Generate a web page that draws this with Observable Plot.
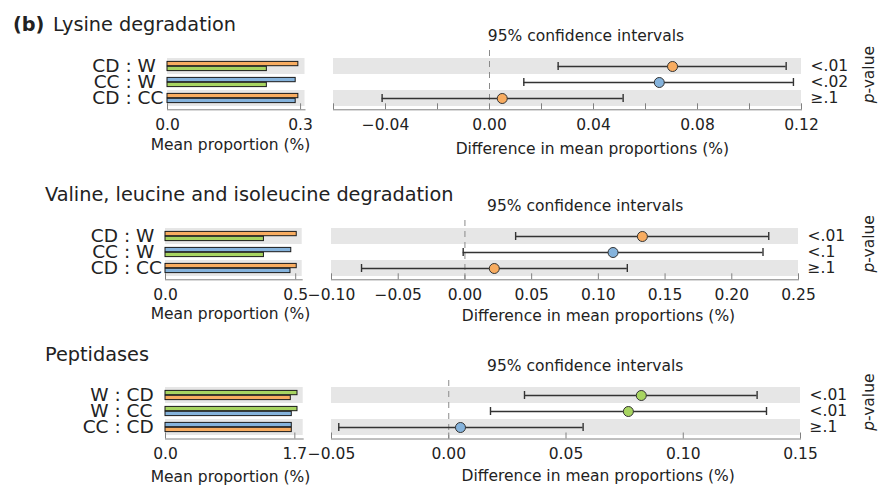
<!DOCTYPE html>
<html><head><meta charset="utf-8">
<script src="https://cdn.jsdelivr.net/npm/d3@7"></script>
<script src="https://cdn.jsdelivr.net/npm/@observablehq/plot@0.6"></script>
<style>
body{margin:0;background:#fff;}
#chart{position:relative;width:884px;height:488px;overflow:hidden;font-family:"DejaVu Sans",sans-serif;color:#222;background:#fff;}
.title{position:absolute;font-size:19.3px;line-height:20px;white-space:nowrap;color:#222;}
.panel{position:absolute;}
.panel svg{overflow:visible;}
</style></head><body><div id="chart"></div>
<script>
// ---------- data ----------
const groupColors = {CD: "#f8ac60", CC: "#85b3dc", W: "#a7d461"};
const titles = ["Lysine degradation", "Valine, leucine and isoleucine degradation", "Peptidases"];

const lysGroupA = ["CD", "CC", "CD"];
const lysGroupB = ["W", "W", "CC"];
const lysMeanA = [0.295, 0.289, 0.295];
const lysMeanB = [0.224, 0.224, 0.289];
const lysDiff = [0.0704, 0.0653, 0.0049];
const lysLow = [0.0264, 0.0132, -0.0413];
const lysHigh = [0.1141, 0.1169, 0.0514];
const lysP = ["<.01", "<.02", "≥.1"];
const lysBarDomain = [0, 0.31];
const lysBarTicks = [0, 0.3];
const lysDiffDomain = [-0.06, 0.12];
const lysDiffTicks = [-0.06, -0.04, -0.02, 0, 0.02, 0.04, 0.06, 0.08, 0.10, 0.12];
const lysDiffLabels = [-0.04, 0, 0.04, 0.08, 0.12];

const valGroupA = ["CD", "CC", "CD"];
const valGroupB = ["W", "W", "CC"];
const valMeanA = [0.504, 0.483, 0.504];
const valMeanB = [0.378, 0.378, 0.480];
const valDiff = [0.133, 0.111, 0.022];
const valLow = [0.038, -0.0013, -0.0775];
const valHigh = [0.2277, 0.2234, 0.1217];
const valP = ["<.01", "<.1", "≥.1"];
const valBarDomain = [0, 0.525];
const valBarTicks = [0, 0.5];
const valDiffDomain = [-0.10, 0.25];
const valDiffTicks = [-0.10, -0.05, 0, 0.05, 0.10, 0.15, 0.20, 0.25];
const valDiffLabels = valDiffTicks;

const pepGroupA = ["W", "W", "CC"];
const pepGroupB = ["CD", "CC", "CD"];
const pepMeanA = [1.735, 1.735, 1.66];
const pepMeanB = [1.647, 1.66, 1.66];
const pepDiff = [0.0821, 0.0766, 0.005];
const pepLow = [0.0323, 0.0178, -0.0469];
const pepHigh = [0.1315, 0.1355, 0.0573];
const pepP = ["<.01", "<.01", "≥.1"];
const pepBarDomain = [0, 1.81];
const pepBarTicks = [0, 1.7];
const pepDiffDomain = [-0.05, 0.15];
const pepDiffTicks = [-0.05, 0, 0.05, 0.10, 0.15];
const pepDiffLabels = pepDiffTicks;

// ---------- layout (pixels) ----------
const layouts = [
  {top: 20, height: 140, frameTop: 50, rowTop: 56.7, rowBottom: 106.7, axisY: 109.3, ciLeft: 333, ciRight: 801,
   barLeft: 167, barRight: 304.5, labEnd: 119, colon: 128, labStart: 137, titleLeft: 53, titleTop: 15.2,
   ciTitleX: 585.5, diffLabX: 591.8, diffLabDy: 39, meanLabX: 230, meanLabDy: 35.7, pvalX: 868.7, pvalY: 74.2},
  {top: 180, height: 145, frameTop: 220, rowTop: 227.3, rowBottom: 277.3, axisY: 279.3, ciLeft: 331, ciRight: 798,
   barLeft: 165, barRight: 301.7, labEnd: 117.5, colon: 126.5, labStart: 135.5, titleLeft: 45, titleTop: 185.2,
   ciTitleX: 584.7, diffLabX: 598, diffLabDy: 36.4, meanLabX: 230, meanLabDy: 34.4, pvalX: 868.7, pvalY: 243.3},
  {top: 340, height: 148, frameTop: 380, rowTop: 386.7, rowBottom: 436, axisY: 438.5, ciLeft: 331, ciRight: 800,
   barLeft: 165, barRight: 302.7, labEnd: 108, colon: 117, labStart: 126, titleLeft: 45, titleTop: 345.2,
   ciTitleX: 584.7, diffLabX: 597.7, diffLabDy: 37.2, meanLabX: 230, meanLabDy: 38.2, pvalX: 868.7, pvalY: 401.7}
];

const panels = [
  {groupA: lysGroupA, groupB: lysGroupB, meanA: lysMeanA, meanB: lysMeanB, diff: lysDiff, low: lysLow, high: lysHigh, p: lysP,
   barDomain: lysBarDomain, barTicks: lysBarTicks, diffDomain: lysDiffDomain, diffTicks: lysDiffTicks, diffLabels: lysDiffLabels},
  {groupA: valGroupA, groupB: valGroupB, meanA: valMeanA, meanB: valMeanB, diff: valDiff, low: valLow, high: valHigh, p: valP,
   barDomain: valBarDomain, barTicks: valBarTicks, diffDomain: valDiffDomain, diffTicks: valDiffTicks, diffLabels: valDiffLabels},
  {groupA: pepGroupA, groupB: pepGroupB, meanA: pepMeanA, meanB: pepMeanB, diff: pepDiff, low: pepLow, high: pepHigh, p: pepP,
   barDomain: pepBarDomain, barTicks: pepBarTicks, diffDomain: pepDiffDomain, diffTicks: pepDiffTicks, diffLabels: pepDiffLabels}
];

const chart = document.getElementById("chart");
const shadeFill = "#e6e6e6";
const axisGray = "#808080";
const ink = "#222";
const fmt2 = d3.format(".2f");
const fmt1 = d3.format(".1f");

function addTitle(text, left, top, bold) {
  const d = document.createElement("div");
  d.className = "title";
  d.style.left = left + "px";
  d.style.top = top + "px";
  if (bold) d.style.fontWeight = "bold";
  d.textContent = text;
  chart.appendChild(d);
}

function place(svg, left, top) {
  const wrap = document.createElement("div");
  wrap.className = "panel";
  wrap.style.left = left + "px";
  wrap.style.top = top + "px";
  wrap.appendChild(svg);
  chart.appendChild(wrap);
}

panels.forEach((cfg, pi) => {
  const L = layouts[pi];
  const rows = cfg.groupA.map((a, i) => ({
    key: String(i), a, b: cfg.groupB[i], meanA: cfg.meanA[i], meanB: cfg.meanB[i],
    diff: cfg.diff[i], low: cfg.low[i], high: cfg.high[i], p: cfg.p[i], shaded: i % 2 === 0
  }));
  const shadedRows = rows.filter(d => d.shaded);
  const keys = rows.map(d => d.key);
  const marginTop = L.frameTop - L.top;
  const marginBottom = L.top + L.height - L.axisY;
  const yScale = {type: "band", domain: keys, padding: 0, axis: null,
    insetTop: L.rowTop - L.frameTop, insetBottom: L.axisY - L.rowBottom};
  const style = {fontFamily: "DejaVu Sans", fontSize: "15.5px", color: ink, background: "transparent", overflow: "visible"};
  const labFont = {fontSize: 18.5, fill: ink, lineAnchor: "middle"};

  // ---- bar panel ----
  const bw = 320;
  const bar = Plot.plot({
    width: bw, height: L.height,
    marginLeft: L.barLeft, marginRight: bw - L.barRight, marginTop, marginBottom,
    style,
    x: {domain: cfg.barDomain, axis: null},
    y: yScale,
    marks: [
      Plot.barX(shadedRows, {x1: cfg.barDomain[0], x2: cfg.barDomain[1], y: "key", fill: shadeFill}),
      Plot.frame({anchor: "bottom", stroke: axisGray}),
      Plot.axisX(cfg.barTicks, {anchor: "bottom", tickSize: -6, tickFormat: fmt1, stroke: axisGray, fill: ink, label: null}),
      Plot.barX(rows, {x: "meanA", y: "key", fill: d => groupColors[d.a], stroke: "#1a1a1a", strokeWidth: 1, insetTop: 3.4, insetBottom: 8.3}),
      Plot.barX(rows, {x: "meanB", y: "key", fill: d => groupColors[d.b], stroke: "#1a1a1a", strokeWidth: 1, insetTop: 8.3, insetBottom: 3.4}),
      Plot.text(rows, {y: "key", text: "a", frameAnchor: "left", textAnchor: "end", dx: L.labEnd - L.barLeft, ...labFont}),
      Plot.text(rows, {y: "key", text: () => ":", frameAnchor: "left", textAnchor: "middle", dx: L.colon - L.barLeft, ...labFont}),
      Plot.text(rows, {y: "key", text: "b", frameAnchor: "left", textAnchor: "start", dx: L.labStart - L.barLeft, ...labFont}),
      Plot.text(["Mean proportion (%)"], {text: d => d, frameAnchor: "bottom", lineAnchor: "middle", dy: L.meanLabDy,
        dx: L.meanLabX - (L.barLeft + L.barRight) / 2, fill: ink})
    ]
  });
  place(bar, 0, L.top);

  // ---- confidence-interval panel ----
  const cw = 564;
  const ciMid = (L.ciLeft + L.ciRight) / 2;
  const isLabel = v => cfg.diffLabels.some(t => Math.abs(t - v) < 1e-9);
  const ci = Plot.plot({
    width: cw, height: L.height,
    marginLeft: L.ciLeft - 320, marginRight: 884 - L.ciRight, marginTop, marginBottom,
    style,
    x: {domain: cfg.diffDomain, axis: null},
    y: yScale,
    marks: [
      Plot.barX(shadedRows, {x1: cfg.diffDomain[0], x2: cfg.diffDomain[1], y: "key", fill: shadeFill}),
      Plot.ruleX([0], {stroke: "#8a8a8a", strokeWidth: 1, strokeDasharray: "6,5"}),
      Plot.frame({anchor: "bottom", stroke: axisGray}),
      Plot.axisX(cfg.diffTicks, {anchor: "bottom", tickSize: -6, tickFormat: d => isLabel(d) ? fmt2(d) : "",
        stroke: axisGray, fill: ink, label: null}),
      Plot.ruleY(rows, {y: "key", x1: "low", x2: "high", stroke: "#333", strokeWidth: 1.6}),
      Plot.tickX(rows, {x: "low", y: "key", stroke: "#333", strokeWidth: 1.4, insetTop: 4, insetBottom: 4}),
      Plot.tickX(rows, {x: "high", y: "key", stroke: "#333", strokeWidth: 1.4, insetTop: 4, insetBottom: 4}),
      Plot.dot(rows, {x: "diff", y: "key", r: 5, fill: d => groupColors[d.a], stroke: "#333", strokeWidth: 1}),
      Plot.text(rows, {y: "key", text: "p", frameAnchor: "right", textAnchor: "start", lineAnchor: "middle", dx: 9, fill: ink}),
      Plot.text(["95% confidence intervals"], {text: d => d, frameAnchor: "top", lineAnchor: "middle", dy: -14.2, dx: L.ciTitleX - ciMid, fill: ink}),
      Plot.text(["Difference in mean proportions (%)"], {text: d => d, frameAnchor: "bottom", lineAnchor: "middle", dy: L.diffLabDy, dx: L.diffLabX - ciMid, fill: ink}),
      Plot.text(["p-value"], {text: d => d, frameAnchor: "right", rotate: -90, textAnchor: "middle", lineAnchor: "middle",
        dx: L.pvalX - L.ciRight, dy: L.pvalY - (L.frameTop + L.axisY) / 2, fill: ink})
    ]
  });
  d3.select(ci).selectAll("text").filter(function() { return this.textContent === "p-value"; }).each(function() {
    const t = d3.select(this);
    t.text(null);
    t.append("tspan").attr("font-style", "italic").text("p");
    t.append("tspan").text("-value");
  });
  place(ci, 320, L.top);

  // ---- titles ----
  if (pi === 0) addTitle("(b)", 13, L.titleTop, true);
  addTitle(titles[pi], L.titleLeft, L.titleTop, false);
});
</script></body></html>
